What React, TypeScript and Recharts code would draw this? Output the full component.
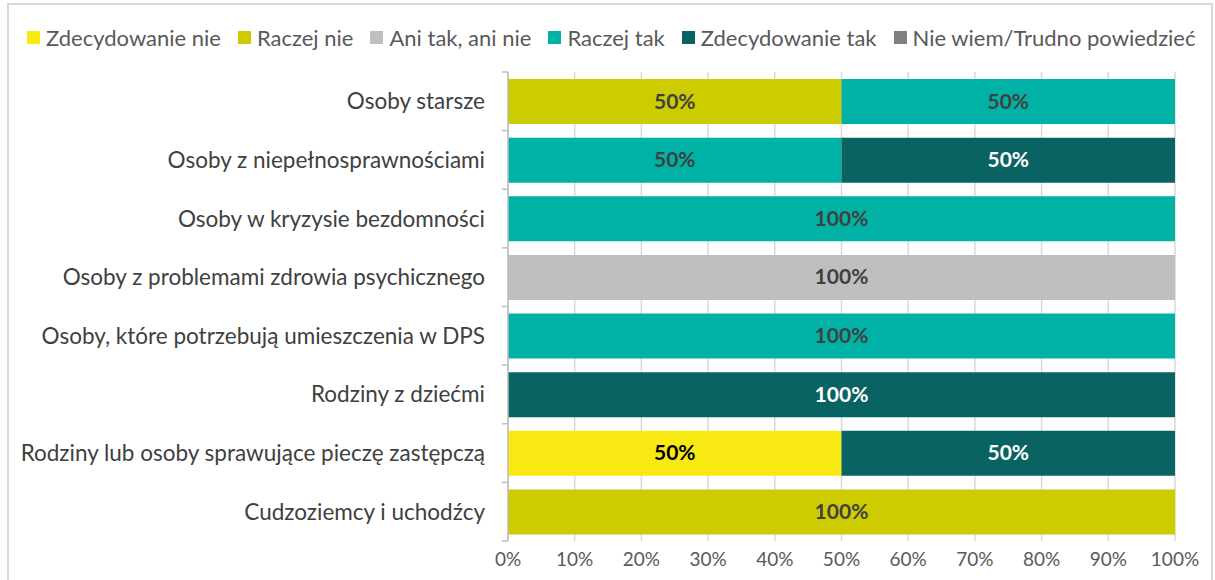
import React from 'react';
import { BarChart, Bar, XAxis, YAxis, CartesianGrid, LabelList } from 'recharts';

// kategorie (od góry)
const categories = [
  'Osoby starsze',
  'Osoby z niepełnosprawnościami',
  'Osoby w kryzysie bezdomności',
  'Osoby z problemami zdrowia psychicznego',
  'Osoby, które potrzebują umieszczenia w DPS',
  'Rodziny z dziećmi',
  'Rodziny lub osoby sprawujące pieczę zastępczą',
  'Cudzoziemcy i uchodźcy',
];

// udziały odpowiedzi w %
const zdecydowanieNie = [0, 0, 0, 0, 0, 0, 50, 0];
const raczejNie = [50, 0, 0, 0, 0, 0, 0, 100];
const aniTakAniNie = [0, 0, 0, 100, 0, 0, 0, 0];
const raczejTak = [50, 50, 100, 0, 100, 0, 0, 0];
const zdecydowanieTak = [0, 50, 0, 0, 0, 100, 50, 0];
const nieWiem = [0, 0, 0, 0, 0, 0, 0, 0];

const xTicks = [0, 10, 20, 30, 40, 50, 60, 70, 80, 90, 100];

const series = [
  { key: 'zn', name: 'Zdecydowanie nie', values: zdecydowanieNie, color: '#F7E911', label: '#000000' },
  { key: 'rn', name: 'Raczej nie', values: raczejNie, color: '#CCCC00', label: '#404040' },
  { key: 'at', name: 'Ani tak, ani nie', values: aniTakAniNie, color: '#BFBFBF', label: '#404040' },
  { key: 'rt', name: 'Raczej tak', values: raczejTak, color: '#00B2A5', label: '#404040' },
  { key: 'zt', name: 'Zdecydowanie tak', values: zdecydowanieTak, color: '#0A6363', label: '#FFFFFF' },
  { key: 'nw', name: 'Nie wiem/Trudno powiedzieć', values: nieWiem, color: '#808080', label: '#FFFFFF' },
];

const data = categories.map((name, i) => {
  const row: Record<string, string | number> = { name };
  series.forEach(s => { row[s.key] = s.values[i]; });
  return row;
});

const FONT = 'Lato, "Open Sans", sans-serif';
const W = 1215;
const H = 580;
const MARGIN = { top: 72, right: 40, bottom: 9, left: 0 };
const X_AXIS_H = 30;
const Y_AXIS_W = 508;
const PLOT_H = H - MARGIN.top - MARGIN.bottom - X_AXIS_H;
const BAND = PLOT_H / categories.length;

const CategoryTick = (props: any) => {
  const { x, y, payload, index } = props;
  const axisX = x + 6 + 17;
  const last = index === categories.length - 1;
  return (
    <g>
      <text x={x} y={y} dy={8} textAnchor="end" fill="#404040" fontSize={22.5} fontFamily={FONT}>
        {payload.value}
      </text>
      <line x1={axisX - 6} x2={axisX} y1={y - BAND / 2} y2={y - BAND / 2} stroke="#BFBFBF" strokeWidth={1.5} />
      {last && (
        <line x1={axisX - 6} x2={axisX} y1={y + BAND / 2} y2={y + BAND / 2} stroke="#BFBFBF" strokeWidth={1.5} />
      )}
    </g>
  );
};

const makeLabel = (color: string) => (props: any) => {
  const { x, y, width, height, value } = props;
  if (!value) return null;
  return (
    <text
      x={x + width / 2}
      y={y + height / 2}
      dy={7}
      textAnchor="middle"
      fill={color}
      fontSize={21}
      fontWeight={700}
      fontFamily={FONT}
    >
      {value}%
    </text>
  );
};

const App = () => {
  return (
    <div style={{ position: 'relative', width: W, height: H, overflow: 'hidden', background: '#fff', fontFamily: FONT }}>
      <style>{`body { margin: 0; }`}</style>
      {/* ramka wykresu */}
      <div
        style={{
          position: 'absolute', left: 7, top: 3, width: 1206, height: 700,
          border: '2px solid #D9D9D9', boxSizing: 'border-box',
        }}
      />
      <div
        style={{
          position: 'absolute', left: 27, top: 24, display: 'flex', alignItems: 'center',
          fontSize: 22, color: '#595959', whiteSpace: 'nowrap',
        }}
      >
        {series.map(s => (
          <div key={s.key} style={{ display: 'flex', alignItems: 'center', marginRight: 17 }}>
            <span style={{ width: 13, height: 13, background: s.color, display: 'inline-block', marginRight: 6 }} />
            <span>{s.name}</span>
          </div>
        ))}
      </div>
      <div style={{ position: 'absolute', left: 0, top: 0 }}>
        <BarChart width={W} height={H} data={data} layout="vertical" margin={MARGIN} barSize={45}>
          <CartesianGrid horizontal={false} stroke="#D9D9D9" strokeWidth={1.5} />
          <XAxis
            type="number"
            domain={[0, 100]}
            ticks={xTicks}
            tickFormatter={(v: number) => `${v}%`}
            axisLine={false}
            tickLine={false}
            height={X_AXIS_H}
            tickMargin={6}
            tick={{ fill: '#595959', fontSize: 19, fontFamily: FONT }}
          />
          <YAxis
            type="category"
            dataKey="name"
            width={Y_AXIS_W}
            axisLine={{ stroke: '#BFBFBF', strokeWidth: 1.5 }}
            tickLine={false}
            tickMargin={17}
            interval={0}
            tick={<CategoryTick />}
          />
          {series.map(s => (
            <Bar key={s.key} dataKey={s.key} name={s.name} stackId="a" fill={s.color} isAnimationActive={false}>
              <LabelList dataKey={s.key} content={makeLabel(s.label)} />
            </Bar>
          ))}
        </BarChart>
      </div>
    </div>
  );
};

export default App;
